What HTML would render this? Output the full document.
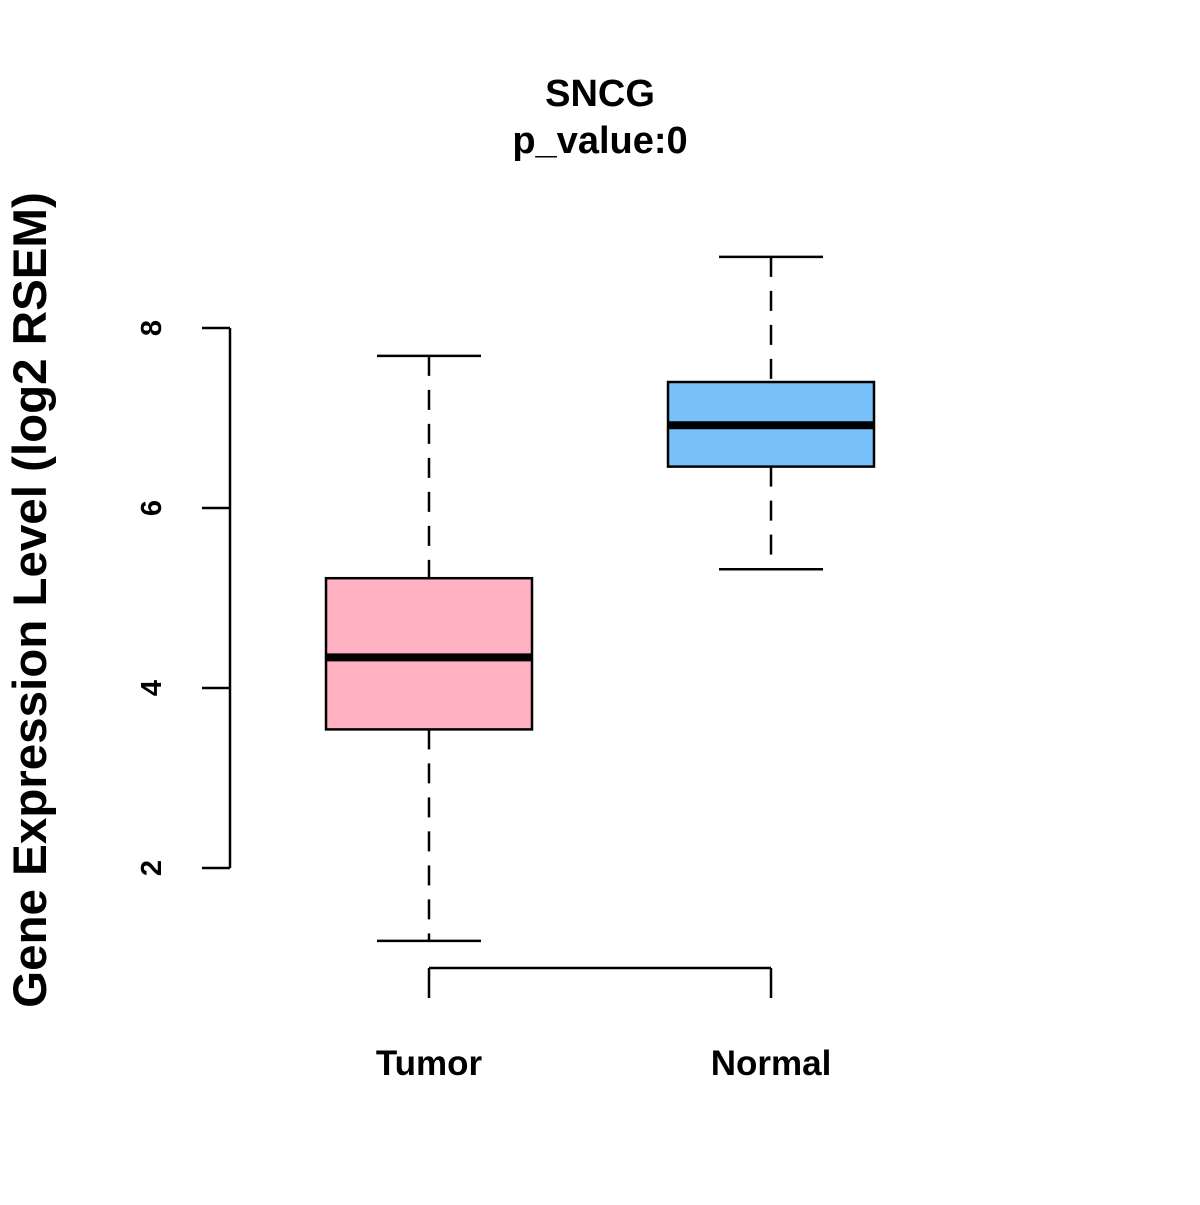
<!DOCTYPE html>
<html><head><meta charset="utf-8"><style>
body{margin:0;background:#fff}
svg text{font-family:"Liberation Sans",Arial,sans-serif;font-weight:bold}
</style></head><body>
<svg id="c" width="1200" height="1200" xmlns="http://www.w3.org/2000/svg">
<rect width="1200" height="1200" fill="#fff"/>
<text x="600" y="106" font-size="38" text-anchor="middle">SNCG</text>
<text x="600" y="153" font-size="38" text-anchor="middle">p_value:0</text>
<text transform="translate(46,600) rotate(-90)" font-size="47.5" text-anchor="middle">Gene Expression Level (log2 RSEM)</text>
<g id="yaxis"></g>
<g id="xaxis"></g>
<g id="boxes"></g>
</svg>
<script>
const categories=["Tumor","Normal"];
const whiskerLow=[1.19,5.32];
const q1=[3.54,6.46];
const median=[4.34,6.92];
const q3=[5.22,7.40];
const whiskerHigh=[7.69,8.79];
const colors=["#FFB1C1","#77C0F9"];
const yTicks=[2,4,6,8];
const NS="http://www.w3.org/2000/svg";
const y=v=>868-(v-2)*90;
const x=i=>429+i*342;
function mk(tag,attrs,parent){const e=document.createElementNS(NS,tag);for(const k in attrs)e.setAttribute(k,attrs[k]);parent.appendChild(e);return e;}
const ya=document.getElementById('yaxis');
mk('line',{x1:230,x2:230,y1:y(yTicks[yTicks.length-1]),y2:y(yTicks[0]),stroke:'#000','stroke-width':2.5},ya);
yTicks.forEach(t=>{
 const l=mk('line',{x1:202,x2:230,y1:y(t),y2:y(t),stroke:'#000','stroke-width':2.5},ya);
 
 
 const tx=mk('text',{transform:`translate(161,${y(t)}) rotate(-90)`,'font-size':29,'text-anchor':'middle'},ya);
 tx.textContent=t;
 
 
});
const xa=document.getElementById('xaxis');
mk('line',{x1:x(0),x2:x(categories.length-1),y1:968,y2:968,stroke:'#000','stroke-width':2.5},xa);
const bx=document.getElementById('boxes');
categories.forEach((c,i)=>{
 const cx=x(i);
 const tk=mk('line',{x1:cx,x2:cx,y1:968,y2:998,stroke:'#000','stroke-width':2.5},xa);
 
 
 const lb=mk('text',{x:cx,y:1075,'font-size':35,'text-anchor':'middle'},xa);
 lb.textContent=c;
 
 
 const g=mk('g',{},bx);
 
 
 const ds={stroke:'#000','stroke-width':2.5,'stroke-dasharray':'20,14'};
 mk('line',Object.assign({x1:cx,x2:cx,y1:y(whiskerHigh[i]),y2:y(q3[i])},ds),g);
 mk('line',Object.assign({x1:cx,x2:cx,y1:y(q1[i]),y2:y(whiskerLow[i])},ds),g);
 mk('line',{x1:cx-52,x2:cx+52,y1:y(whiskerHigh[i]),y2:y(whiskerHigh[i]),stroke:'#000','stroke-width':2.5},g);
 mk('line',{x1:cx-52,x2:cx+52,y1:y(whiskerLow[i]),y2:y(whiskerLow[i]),stroke:'#000','stroke-width':2.5},g);
 mk('rect',{x:cx-103,y:y(q3[i]),width:206,height:y(q1[i])-y(q3[i]),fill:colors[i],stroke:'#000','stroke-width':2.5},g);
 mk('line',{x1:cx-103,x2:cx+103,y1:y(median[i]),y2:y(median[i]),stroke:'#000','stroke-width':8},g);
});
</script>
</body></html>
